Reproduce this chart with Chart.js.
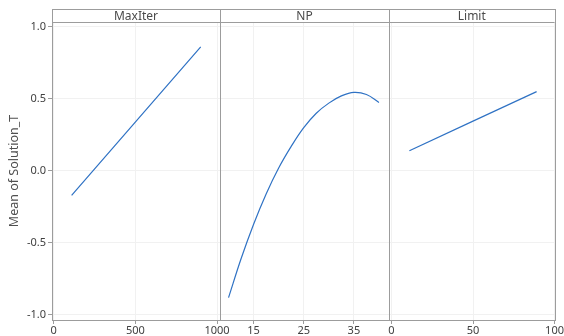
<!DOCTYPE html>
<html>
<head>
<meta charset="utf-8">
<script src="https://cdn.jsdelivr.net/npm/chart.js@4"></script>
<style>
  html, body { margin: 0; padding: 0; background: #fff; }
  #wrap { position: relative; width: 564px; height: 336px; }
  #wrap canvas { position: absolute; left: 0; top: 0; }
</style>
</head>
<body>
<div id="wrap">
  <canvas id="panelMaxIter" width="564" height="336"></canvas>
  <canvas id="panelNP" width="564" height="336"></canvas>
  <canvas id="panelLimit" width="564" height="336"></canvas>
</div>
<script>
// Main effects plot data
const yTitle = "Mean of Solution_T";
const yTicks = [-1.0, -0.5, 0.0, 0.5, 1.0];

const maxIterX = [110, 900];
const maxIterY = [-0.17, 0.86];
const maxIterTicks = [0, 500, 1000];

const npX = [10, 12.5, 15, 17.5, 20, 22.5, 25, 27.5, 30, 32.5, 35, 37.5, 40];
const npY = [-0.88, -0.61, -0.37, -0.16, 0.02, 0.17, 0.30, 0.40, 0.47, 0.52, 0.545, 0.53, 0.475];
const npTicks = [15, 25, 35];

const limitX = [11, 89];
const limitY = [0.14, 0.55];
const limitTicks = [0, 50, 100];

const FONT = "'Noto Sans', 'Open Sans', sans-serif";
const LINE_COLOR = "#2f72c4";
const FRAME = "#9c9c9c";
const GRID = "#f1f1f1";
const STRIP_TOP = 9;

// draws the panel border and the header strip with the factor name
const panelFrame = {
  id: "panelFrame",
  afterDraw(chart, args, opts) {
    const { ctx, chartArea: a } = chart;
    ctx.save();
    ctx.strokeStyle = FRAME;
    ctx.lineWidth = 1;
    ctx.strokeRect(Math.round(a.left) + 0.5, STRIP_TOP + 0.5, Math.round(a.right - a.left), Math.round(a.bottom - STRIP_TOP));
    ctx.beginPath();
    ctx.moveTo(a.left, Math.round(a.top) + 0.5);
    ctx.lineTo(a.right, Math.round(a.top) + 0.5);
    ctx.stroke();
    ctx.fillStyle = "#4a4a4a";
    ctx.font = "12px " + FONT;
    ctx.textAlign = "center";
    ctx.textBaseline = "middle";
    ctx.fillText(opts.label, (a.left + a.right) / 2, (STRIP_TOP + a.top) / 2 + 1);
    ctx.restore();
  }
};

function makePanel(id, label, xs, ys, xTicks, xMin, xMax, padLeft, padRight, showY) {
  const points = xs.map((x, i) => ({ x: x, y: ys[i] }));
  return new Chart(document.getElementById(id), {
    type: "line",
    data: {
      datasets: [{
        data: points,
        borderColor: LINE_COLOR,
        borderWidth: 1.2,
        pointRadius: 0,
        tension: 0.4,
        fill: false
      }]
    },
    options: {
      responsive: false,
      animation: false,
      devicePixelRatio: 1,
      layout: { padding: { left: padLeft, right: padRight, top: 22, bottom: 0 } },
      plugins: {
        legend: { display: false },
        tooltip: { enabled: false },
        panelFrame: { label: label }
      },
      scales: {
        x: {
          type: "linear",
          min: xMin,
          max: xMax,
          afterBuildTicks: s => { s.ticks = xTicks.map(v => ({ value: v })); },
          afterFit: s => { s.height = 16; },
          grid: { color: GRID, tickColor: FRAME, tickLength: 4 },
          border: { display: true, color: FRAME },
          ticks: {
            autoSkip: false,
            maxRotation: 0,
            padding: 0,
            color: "#404040",
            font: { family: FONT, size: 11 },
            callback: v => String(v)
          }
        },
        y: {
          min: -1.035,
          max: 1.033,
          afterBuildTicks: s => { s.ticks = yTicks.map(v => ({ value: v })); },
          afterFit: s => { s.width = showY ? 52 : 0; },
          grid: { color: GRID, tickColor: FRAME, tickLength: 4, drawTicks: showY },
          border: { display: showY, color: FRAME },
          title: {
            display: showY,
            text: yTitle,
            color: "#505050",
            font: { family: FONT, size: 12.5 },
            padding: { top: 7, bottom: 0 }
          },
          ticks: {
            display: showY,
            padding: 2,
            color: "#404040",
            font: { family: FONT, size: 11 },
            callback: v => v.toFixed(1)
          }
        }
      }
    },
    plugins: [panelFrame]
  });
}

makePanel("panelMaxIter", "MaxIter", maxIterX, maxIterY, maxIterTicks, -10, 1018, 0, 344, true);
makePanel("panelNP", "NP", npX, npY, npTicks, 8.3, 42, 220, 175, false);
makePanel("panelLimit", "Limit", limitX, limitY, limitTicks, -1.5, 100, 389, 6, false);
</script>
</body>
</html>
